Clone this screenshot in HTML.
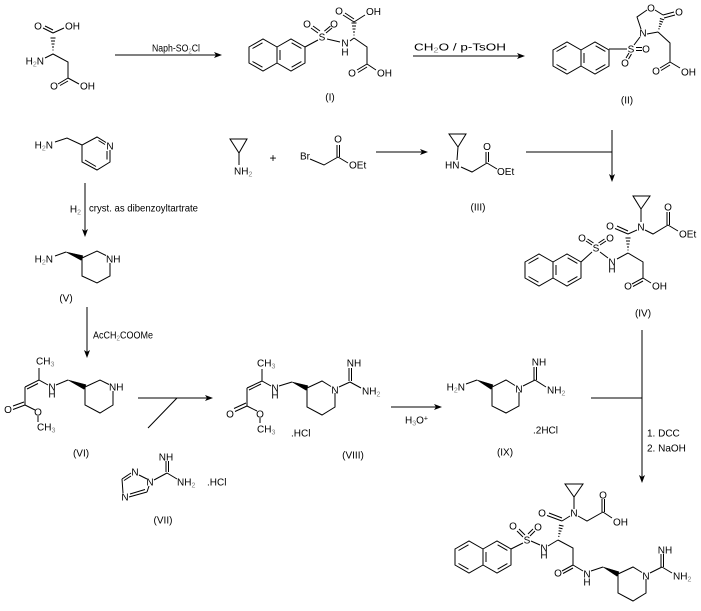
<!DOCTYPE html>
<html><head><meta charset="utf-8"><style>
html,body{margin:0;padding:0;background:#fff;}
svg{display:block;}
text{font-family:"Liberation Sans",Arial,sans-serif;font-size:10px;fill:#000;}
.s{font-size:7px;fill:#808080;}
.m{text-anchor:middle;}
.e{text-anchor:end;}
</style></head><body>
<svg width="701" height="611" viewBox="0 0 701 611" xmlns="http://www.w3.org/2000/svg">
<defs>
<g id="naph" fill="none" stroke="#000" stroke-width="1">
<polygon points="0,8 14,0 28,8 28,24 14,32 0,24"/>
<polyline points="28,8 42,0 56,8 56,24 42,32 28,24"/>
<line x1="3.5" y1="9.5" x2="13.5" y2="3.8"/>
<line x1="3.5" y1="22.5" x2="13.5" y2="28.2"/>
<line x1="31" y1="11" x2="31" y2="21"/>
<line x1="42.6" y1="3.8" x2="52.4" y2="9.4"/>
<line x1="52.4" y1="22.6" x2="42.6" y2="28.2"/>
</g>
</defs>

<use href="#naph" x="249" y="39"/>
<use href="#naph" x="553" y="42"/>
<use href="#naph" x="525" y="254"/>
<use href="#naph" x="455" y="541"/>

<g stroke="#000" stroke-width="1" fill="none">
<!-- Aspartic acid -->
<path d="M53,33 L43,28 M53,30 L45,26 M53,33 L64,28"/>
<path d="M52.5,50 L53.5,50 M52,47 L54,47 M51.5,44 L54.5,44 M51,41 L55,41 M50.5,38 L55.5,38"/>
<path d="M45,58 L53,54 L68,62 L68,78 M68,78 L58,84 M68,81 L60,85.5 M68,78 L79,84"/>
<!-- arrow 1 -->
<path d="M115,55 L216,55"/>
<!-- (I) -->
<path d="M305,47 L318,40 M318,33 L311,28 M320,31 L313,26 M326,33 L332,28 M324.4,31.1 L330.4,26.1 M327,39 L340,42 M350,41 L354,38"/>
<path d="M353.5,35 L354.5,35 M353,32 L355,32 M352.5,29 L355.5,29 M352,26 L356,26 M351.5,23 L356.5,23"/>
<path d="M354,22 L343,15 M354,19 L345,13 M354,22 L365,15 M354,38 L367,47 L367,64 M367,64 L357,70 M367,67 L358,72.5 M367,64 L376,70"/>
<!-- arrow 2 -->
<path d="M413,56 L519,56"/>
<!-- (II) -->
<path d="M609,49 L627,49 M636,47.5 L642,47.5 M636,50.5 L642,50.5 M629,53 L626,58 M631.5,54 L628.5,59 M634,45 L640,37 M641,29 L637,17 L647,10 M655,10 L663,15 M663,15 L674,12 M664,18 L675,15 M658,32 L647,34 M658,32 L670,43 L670,62 M670,62 L660,68 M670,65 L661,70.5 M670,62 L680,68"/>
<path d="M658.4,28.6 L659.6,29 M658.8,26.1 L660.7,26.7 M659.2,23.6 L661.8,24.4 M659.5,21 L663,22.1 M659.9,18.5 L664.1,19.8"/>
<!-- arrow to IV -->
<path d="M526,152 L612,152 M612,130 L612,176"/>
<!-- pyridine -->
<path d="M55,142 L67,138 L82,145"/>
<polyline points="106,142.5 97,137 82,145 82,162 97,170 110,162 110,150"/>
<path d="M98.5,140.5 L105,144.5 M107,151 L107,159.5 M85,160 L96,166.5"/>
<!-- arrow H2 -->
<path d="M85,183 L85,231"/>
<!-- (V) -->
<path d="M55,256 L66,252"/>
<polyline points="106,255.5 97,251 82,258 82,276 97,283 110,276 110,263"/>
<!-- arrow V->VI -->
<path d="M87,307 L87,352"/>
<!-- (VI) -->
<path d="M39,380 L39,368 M39,380 L48,385 M39,380 L25,387 M38,383.5 L27,389 M25,387 L25,405 M25,405 L13,409.5 M24,402 L13,406 M25,405 L35,410 M38,416 L38,422 M56,385 L68,380"/>
<polyline points="109,384.5 100,380 85,387 85,405 100,413 113,405 113,391"/>
<!-- arrow VI->VIII -->
<path d="M138,398 L207,398 M177,398 L148,428"/>
<!-- (VII) -->
<path d="M147,479 L139,475 M131,473 L122,479 M131,476 L124,480.5 M122,479 L123,493 M129,497 L147,492 M130,494 L145,489.5 M147,492 L149,486 M154,480 L167,473 M166,472 L166,461 M168.5,472 L168.5,461 M167,473 L177,479"/>
<!-- (VIII) -->
<path d="M262,381 L262,369 M262,381 L271,386 M262,381 L247,388 M261,384 L249,390 M247,388 L247,406 M247,406 L235,411.5 M246,403 L234,408.5 M247,406 L257,411 M260,418 L260,423 M279,386 L292,382"/>
<polyline points="331,386.5 322,381 307,388 307,407 322,415 335,407 335,393"/>
<path d="M339,387 L350,382 M349,381 L349,368 M351.5,381 L351.5,368 M350,382 L361,388"/>
<!-- arrow VIII->IX -->
<path d="M391,407 L436,407"/>
<!-- (IX) -->
<path d="M466,384 L477,380"/>
<polyline points="515,385.5 506,380 492,387 492,406 506,413 519,406 519,392"/>
<path d="M523,386 L535,380 M534,380 L534,367 M536.5,380 L536.5,367 M535,380 L546,387"/>
<!-- arrow IX/IV -> final -->
<path d="M591,398 L642,398 M642,330 L642,477"/>
<!-- (III) -->
<polygon points="449,134 466,134 458,147"/>
<path d="M458,147 L457,160 M461,167 L472,172 L487,163 M486,163 L486,152 M488.5,162 L488.5,152 M487,163 L497,169"/>
<!-- cyclopropylamine + bromoacetate -->
<polygon points="230,139 247,139 239,153"/>
<path d="M239,153 L239,165 M310,159 L324,165 L338,157 M337,157 L337,145 M339.5,157 L339.5,145 M338,157 L348,163"/>
<path d="M376,152 L422,152"/>
<!-- (IV) -->
<polygon points="633,196 650,196 641,209"/>
<path d="M641,209 L641,222 M637,230 L628,234 M628,234 L615,228.5 M628,231 L617,226 M645,230 L653,234 L668,225 M667,225 L667,212 M669.5,225 L669.5,212 M668,225 L678,231"/>
<path d="M627.5,250 L628.5,250 M627,247 L629,247 M626.5,244 L629.5,244 M626,241 L630,241 M625.5,238 L630.5,238"/>
<path d="M628,253 L617,259 M608,258 L600,252 M592,245 L586,241 M593.5,243 L587.5,239 M600,245 L606,241 M598.5,243 L604.5,239 M592,252 L581,262 M628,253 L643,262 L643,278 M643,278 L632,284 M643,281 L633,286.5 M643,278 L651,283"/>
<!-- final product -->
<polygon points="565,484 583,484 574,497"/>
<path d="M574,497 L574,509 M570,516 L562,521 M562,521 L547,515.5 M562,518 L549,513 M578,516 L587,521 L603,512 M602,512 L602,499 M604.5,512 L604.5,499 M603,512 L612,518"/>
<path d="M558.2,536.3 L559.4,536.5 M558.4,533.5 L560.4,533.9 M558.6,530.7 L561.4,531.3 M558.7,527.9 L562.5,528.7 M558.9,525.1 L563.5,526.1"/>
<path d="M558,540 L548,546 M540,545 L531,541 M523,537 L517,531 M525,535 L519,529 M530,536 L535,531 M528,534 L533,529 M523,543 L511,549 M558,540 L573,548 L573,565 M573,565 L562,571 M573,568 L563,573.5 M573,565 L583,571 M591,571 L603,567"/>
<polyline points="642,572.5 633,567 618,574 618,593 633,601 646,593 646,579"/>
<path d="M650,573 L662,567 M661,567 L661,554 M663.5,567 L663.5,554 M662,567 L672,573"/>
</g>

<!-- bold wedges -->
<g fill="#000" stroke="#000" stroke-width="0.5">
<polygon points="66,252 81.1,260.3 82.9,255.7"/>
<polygon points="68,380 84,389.3 86,384.7"/>
<polygon points="292,382 306.1,390.3 307.9,385.7"/>
<polygon points="477,380 491,389.3 493,384.8"/>
<polygon points="603,567 617,576.3 619,571.8"/>
</g>

<!-- arrowheads -->
<g fill="#000">
<polygon points="222,55 214,52 216,55 214,58"/>
<polygon points="525,56 517,53 519,56 517,59"/>
<polygon points="612,182 609,174 612,176 615,174"/>
<polygon points="85,237 82,229 85,231 88,229"/>
<polygon points="87,358 84,350 87,352 90,350"/>
<polygon points="213,398 205,395 207,398 205,401"/>
<polygon points="442,407 434,404 436,407 434,410"/>
<polygon points="642,483 639,475 642,477 645,475"/>
<polygon points="428,152 420,149 422,152 420,155"/>
</g>

<!-- Aspartic acid texts -->
<text class="m" x="38" y="29.5">O</text>
<text x="65" y="29.5">OH</text>
<text class="e" x="44" y="64.5">H<tspan class="s" dy="2">2</tspan><tspan dy="-2">N</tspan></text>
<text class="m" x="54" y="89.5">O</text>
<text x="80" y="89.5">OH</text>
<text x="152" y="51.5" textLength="48" lengthAdjust="spacingAndGlyphs">Naph-SO<tspan class="s" dy="2">2</tspan><tspan dy="-2">Cl</tspan></text>

<!-- (I) -->
<text class="m" x="322" y="40.5">S</text>
<text class="m" x="307" y="27.5">O</text>
<text class="m" x="334" y="27.5">O</text>
<text class="m" x="345" y="46.5">N</text>
<text class="m" x="345" y="55.5">H</text>
<text class="m" x="339" y="14.5">O</text>
<text x="366" y="15">OH</text>
<text class="m" x="352" y="76.5">O</text>
<text x="377" y="76.5">OH</text>
<text class="m" x="330" y="100.5">(I)</text>
<text x="414" y="50.5" textLength="92" lengthAdjust="spacingAndGlyphs">CH<tspan class="s" dy="2">2</tspan><tspan dy="-2">O / p-TsOH</tspan></text>

<!-- (II) -->
<text class="m" x="631" y="52.5">S</text>
<text class="m" x="646" y="52.5">O</text>
<text class="m" x="625" y="66.5">O</text>
<text class="m" x="643" y="36.5">N</text>
<text class="m" x="651" y="11.5">O</text>
<text class="m" x="679" y="15.5">O</text>
<text class="m" x="656" y="74.5">O</text>
<text x="681" y="75.5">OH</text>
<text class="m" x="627" y="103.5">(II)</text>

<!-- pyridine -->
<text class="e" x="53" y="148.5">H<tspan class="s" dy="2">2</tspan><tspan dy="-2">N</tspan></text>
<text class="m" x="110" y="149.5">N</text>
<text class="e" x="81" y="212.5">H<tspan class="s" dy="2">2</tspan></text>
<text x="89" y="211.5" textLength="109" lengthAdjust="spacingAndGlyphs">cryst. as dibenzoyltartrate</text>

<!-- (V) -->
<text class="e" x="53" y="262.5">H<tspan class="s" dy="2">2</tspan><tspan dy="-2">N</tspan></text>
<text x="106" y="262.5">NH</text>
<text class="m" x="66" y="301.5">(V)</text>
<text x="93" y="338.5" textLength="60" lengthAdjust="spacingAndGlyphs">AcCH<tspan class="s" dy="2">2</tspan><tspan dy="-2">COOMe</tspan></text>

<!-- (VI) -->
<text x="36" y="364.5">CH<tspan class="s" dy="2">3</tspan></text>
<text class="m" x="52" y="390.5">N</text>
<text class="m" x="52" y="397.5">H</text>
<text class="m" x="8" y="413">O</text>
<text class="m" x="38" y="415.5">O</text>
<text x="37" y="430.5">CH<tspan class="s" dy="2">3</tspan></text>
<text x="109" y="390.5">NH</text>
<text class="m" x="81" y="456.5">(VI)</text>

<!-- (VII) -->
<text class="m" x="150" y="485.5">N</text>
<text class="m" x="135" y="475.5">N</text>
<text class="m" x="125" y="500.5">N</text>
<text class="m" x="166" y="460.5">NH</text>
<text x="177" y="485.5">NH<tspan class="s" dy="2">2</tspan></text>
<text x="207" y="485.5">.HCl</text>
<text class="m" x="163" y="523.5">(VII)</text>

<!-- (VIII) -->
<text x="257" y="366.5">CH<tspan class="s" dy="2">3</tspan></text>
<text class="m" x="275" y="391.5">N</text>
<text class="m" x="275" y="398.5">H</text>
<text class="m" x="230" y="417.5">O</text>
<text class="m" x="260" y="417.5">O</text>
<text x="257" y="432.5">CH<tspan class="s" dy="2">3</tspan></text>
<text class="m" x="335" y="393.5">N</text>
<text class="m" x="354" y="366.5">NH</text>
<text x="362" y="394.5">NH<tspan class="s" dy="2">2</tspan></text>
<text x="291" y="436.5">.HCl</text>
<text class="m" x="353" y="458.5">(VIII)</text>
<text x="405" y="423.5">H<tspan class="s" dy="2">3</tspan><tspan dy="-2">O</tspan><tspan class="s" dy="-3" style="fill:#000">+</tspan></text>

<!-- (IX) -->
<text class="e" x="465" y="390.5">H<tspan class="s" dy="2">2</tspan><tspan dy="-2">N</tspan></text>
<text class="m" x="519" y="392.5">N</text>
<text class="m" x="539" y="365.5">NH</text>
<text x="547" y="393.5">NH<tspan class="s" dy="2">2</tspan></text>
<text x="533" y="433.5">.2HCl</text>
<text class="m" x="505" y="455.5">(IX)</text>
<text x="647" y="436.5">1. DCC</text>
<text x="647" y="451.5">2. NaOH</text>

<!-- (III) -->
<text class="e" x="459.5" y="168.5">HN</text>
<text class="m" x="487" y="150">O</text>
<text x="497" y="175">OEt</text>
<text class="m" x="478" y="210.5">(III)</text>

<!-- cyclopropylamine + bromoacetate -->
<text x="234" y="174.5">NH<tspan class="s" dy="2">2</tspan></text>
<text class="m" x="273" y="162" style="font-size:12px">+</text>
<text x="300" y="159.5">Br</text>
<text class="m" x="338" y="142.5">O</text>
<text x="349" y="168.5">OEt</text>

<!-- (IV) -->
<text class="m" x="641" y="230.5">N</text>
<text class="m" x="610" y="229.5">O</text>
<text class="m" x="668" y="210.5">O</text>
<text x="679" y="237.5">OEt</text>
<text class="m" x="612" y="265.5">N</text>
<text class="m" x="612" y="272.5">H</text>
<text class="m" x="596" y="251.5">S</text>
<text class="m" x="582" y="241.5">O</text>
<text class="m" x="610" y="241.5">O</text>
<text class="m" x="628" y="289.5">O</text>
<text x="652" y="289.5">OH</text>
<text class="m" x="643" y="316.5">(IV)</text>

<!-- final -->
<text class="m" x="574" y="516.5">N</text>
<text class="m" x="542" y="516.5">O</text>
<text class="m" x="603" y="498.5">O</text>
<text x="613" y="525.5">OH</text>
<text class="m" x="544" y="551.5">N</text>
<text class="m" x="544" y="558.5">H</text>
<text class="m" x="527" y="543.5">S</text>
<text class="m" x="513" y="529.5">O</text>
<text class="m" x="538" y="530.5">O</text>
<text class="m" x="558" y="576.5">O</text>
<text class="m" x="587" y="577.5">N</text>
<text class="m" x="587" y="585.5">H</text>
<text class="m" x="646" y="579.5">N</text>
<text class="m" x="665" y="553.5">NH</text>
<text x="673" y="579.5">NH<tspan class="s" dy="2">2</tspan></text>
</svg>
</body></html>
